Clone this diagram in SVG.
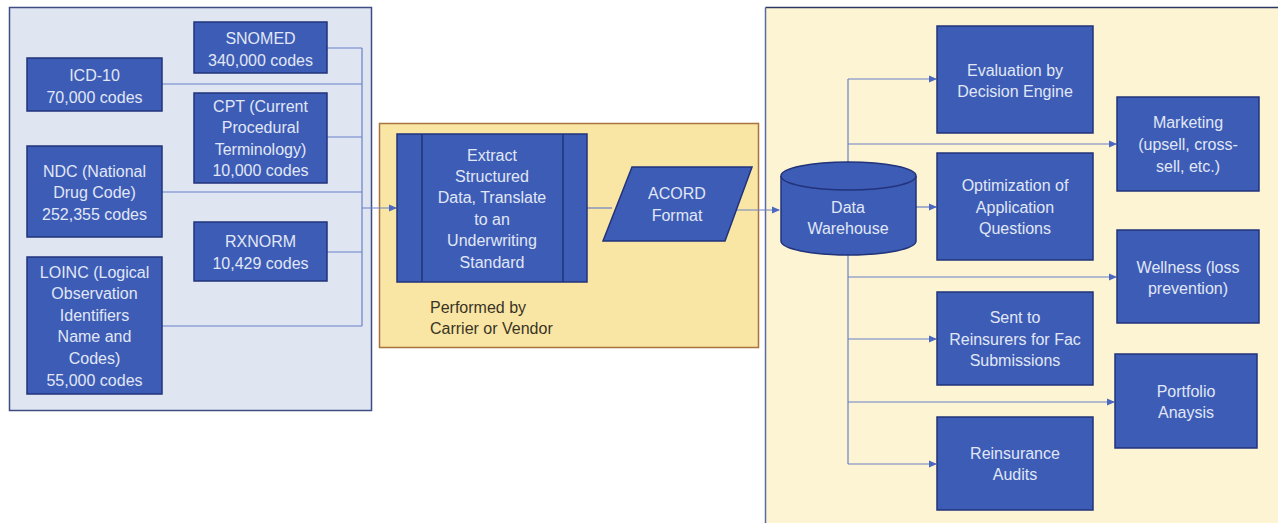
<svg xmlns="http://www.w3.org/2000/svg" width="1278" height="523" viewBox="0 0 1278 523">
  <style>
    .box { fill: #3c5cb6; stroke: #22337a; stroke-width: 1.5; }
    .lbl { font-family: "Liberation Sans", Arial, sans-serif; font-size: 16px; fill: #e1e7f5; text-anchor: middle; }
    .note { font-family: "Liberation Sans", Arial, sans-serif; font-size: 16px; fill: #3a3424; }
    .wire { fill: none; stroke: #6a80c8; stroke-width: 1.2; }
  </style>
  <defs>
    <marker id="arrow" markerWidth="8" markerHeight="8" refX="7" refY="4" orient="auto" markerUnits="userSpaceOnUse">
      <path d="M0,0.5 L8,4 L0,7.5 Z" fill="#4a67c2"/>
    </marker>
  </defs>

  <rect width="1278" height="523" fill="#ffffff"/>

  <!-- panels -->
  <g id="panel-sources">
    <rect x="9.5" y="7.5" width="362" height="403" fill="#dfe6f2" stroke="#3e4c82" stroke-width="1.5"/>
  </g>
  <g id="panel-processing">
    <rect x="379.5" y="123.5" width="379" height="224" fill="#f9e6a4" stroke="#a8733c" stroke-width="1.5"/>
  </g>
  <g id="panel-usage">
    <rect x="765.5" y="7.5" width="520" height="520" fill="#fdf4d3" stroke="none"/>
    <line x1="765.5" y1="7.5" x2="1278" y2="7.5" stroke="#2c3764" stroke-width="1.5"/>
    <line x1="765.5" y1="7.5" x2="765.5" y2="523" stroke="#5a6aa2" stroke-width="1.5"/>
  </g>

  <!-- connectors -->
  <g id="connectors">
    <path class="wire" d="M327,48 H362 M162,84 H362 M327,137 H362 M162,192 H362 M327,252 H362 M162,326 H362 M362,48 V326"/>
    <path class="wire" d="M362,208 H396" marker-end="url(#arrow)"/>
    <path class="wire" d="M587,208 H612"/>
    <path class="wire" d="M736,210 H779" marker-end="url(#arrow)"/>
    <path class="wire" d="M848,79 V162 M848,255 V464"/>
    <path class="wire" d="M848,79 H936" marker-end="url(#arrow)"/>
    <path class="wire" d="M848,144 H1116" marker-end="url(#arrow)"/>
    <path class="wire" d="M916,207 H936" marker-end="url(#arrow)"/>
    <path class="wire" d="M848,277 H1116" marker-end="url(#arrow)"/>
    <path class="wire" d="M848,339 H936" marker-end="url(#arrow)"/>
    <path class="wire" d="M848,402 H1114" marker-end="url(#arrow)"/>
    <path class="wire" d="M848,464 H936" marker-end="url(#arrow)"/>
  </g>

  <!-- source code sets -->
  <g id="snomed">
    <rect class="box" x="194" y="22" width="133" height="51"/>
    <text class="lbl" x="260.5" y="43.5">SNOMED</text>
    <text class="lbl" x="260.5" y="65.5">340,000 codes</text>
  </g>
  <g id="icd10">
    <rect class="box" x="27" y="58" width="135" height="53"/>
    <text class="lbl" x="94.5" y="80.5">ICD-10</text>
    <text class="lbl" x="94.5" y="102.5">70,000 codes</text>
  </g>
  <g id="cpt">
    <rect class="box" x="194" y="93" width="133" height="90"/>
    <text class="lbl" x="260.5" y="111.5">CPT (Current</text>
    <text class="lbl" x="260.5" y="133">Procedural</text>
    <text class="lbl" x="260.5" y="154.5">Terminology)</text>
    <text class="lbl" x="260.5" y="176">10,000 codes</text>
  </g>
  <g id="ndc">
    <rect class="box" x="27" y="146" width="135" height="91"/>
    <text class="lbl" x="94.5" y="176.5">NDC (National</text>
    <text class="lbl" x="94.5" y="198">Drug Code)</text>
    <text class="lbl" x="94.5" y="219.5">252,355 codes</text>
  </g>
  <g id="rxnorm">
    <rect class="box" x="194" y="222" width="133" height="59"/>
    <text class="lbl" x="260.5" y="246.5">RXNORM</text>
    <text class="lbl" x="260.5" y="268.5">10,429 codes</text>
  </g>
  <g id="loinc">
    <rect class="box" x="27" y="257" width="135" height="137"/>
    <text class="lbl" x="94.5" y="277.5">LOINC (Logical</text>
    <text class="lbl" x="94.5" y="299">Observation</text>
    <text class="lbl" x="94.5" y="320.5">Identifiers</text>
    <text class="lbl" x="94.5" y="342">Name and</text>
    <text class="lbl" x="94.5" y="363.5">Codes)</text>
    <text class="lbl" x="94.5" y="385.5">55,000 codes</text>
  </g>

  <!-- processing -->
  <g id="extract">
    <rect class="box" x="397" y="134" width="190" height="148"/>
    <line x1="422" y1="134" x2="422" y2="282" stroke="#22337a" stroke-width="1.5"/>
    <line x1="563" y1="134" x2="563" y2="282" stroke="#22337a" stroke-width="1.5"/>
    <text class="lbl" x="492" y="160.5">Extract</text>
    <text class="lbl" x="492" y="182">Structured</text>
    <text class="lbl" x="492" y="203">Data, Translate</text>
    <text class="lbl" x="492" y="224.5">to an</text>
    <text class="lbl" x="492" y="246">Underwriting</text>
    <text class="lbl" x="492" y="267.5">Standard</text>
  </g>
  <g id="acord">
    <polygon class="box" points="632,167 752,167 725,241 603,241"/>
    <text class="lbl" x="677" y="198.5">ACORD</text>
    <text class="lbl" x="677" y="220.5">Format</text>
  </g>
  <g id="performed-note">
    <text class="note" x="430" y="312.5">Performed by</text>
    <text class="note" x="430" y="333.5">Carrier or Vendor</text>
  </g>

  <!-- storage and uses -->
  <g id="data-warehouse">
    <path class="box" d="M781,176 V241 A67.5,14 0 0 0 916,241 V176 A67.5,14 0 0 0 781,176 Z"/>
    <path d="M781,176 A67.5,14 0 0 0 916,176" fill="none" stroke="#22337a" stroke-width="1.5"/>
    <text class="lbl" x="848" y="212.5">Data</text>
    <text class="lbl" x="848" y="233.5">Warehouse</text>
  </g>
  <g id="evaluation">
    <rect class="box" x="937" y="26" width="156" height="107"/>
    <text class="lbl" x="1015" y="75.5">Evaluation by</text>
    <text class="lbl" x="1015" y="96.5">Decision Engine</text>
  </g>
  <g id="marketing">
    <rect class="box" x="1117" y="97" width="142" height="94"/>
    <text class="lbl" x="1188" y="127.5">Marketing</text>
    <text class="lbl" x="1188" y="149.5">(upsell, cross-</text>
    <text class="lbl" x="1188" y="171.5">sell, etc.)</text>
  </g>
  <g id="optimization">
    <rect class="box" x="937" y="153" width="156" height="107"/>
    <text class="lbl" x="1015" y="190.5">Optimization of</text>
    <text class="lbl" x="1015" y="212.5">Application</text>
    <text class="lbl" x="1015" y="233.5">Questions</text>
  </g>
  <g id="wellness">
    <rect class="box" x="1117" y="230" width="142" height="93"/>
    <text class="lbl" x="1188" y="272.5">Wellness (loss</text>
    <text class="lbl" x="1188" y="293.5">prevention)</text>
  </g>
  <g id="reinsurers">
    <rect class="box" x="937" y="292" width="156" height="93"/>
    <text class="lbl" x="1015" y="322.5">Sent to</text>
    <text class="lbl" x="1015" y="344.5">Reinsurers for Fac</text>
    <text class="lbl" x="1015" y="365.5">Submissions</text>
  </g>
  <g id="portfolio">
    <rect class="box" x="1115" y="354" width="142" height="94"/>
    <text class="lbl" x="1186" y="396.5">Portfolio</text>
    <text class="lbl" x="1186" y="417.5">Anaysis</text>
  </g>
  <g id="audits">
    <rect class="box" x="937" y="417" width="156" height="93"/>
    <text class="lbl" x="1015" y="458.5">Reinsurance</text>
    <text class="lbl" x="1015" y="479.5">Audits</text>
  </g>
</svg>
